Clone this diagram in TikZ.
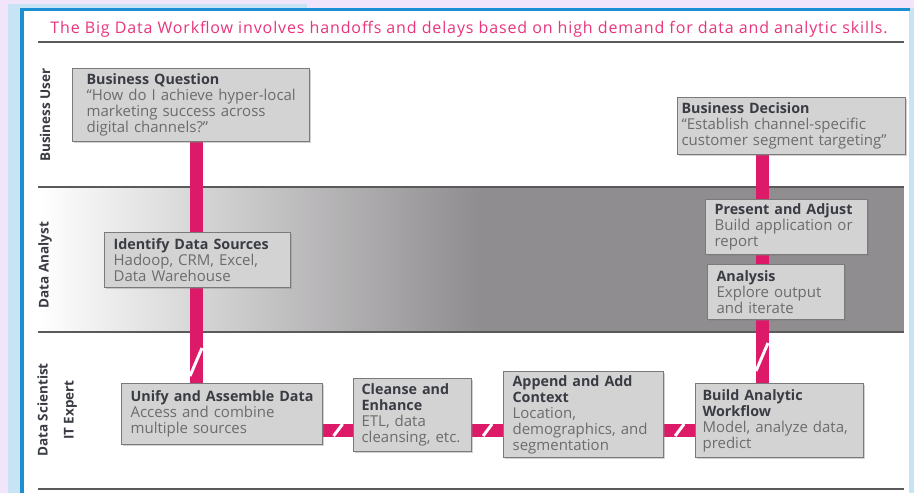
\documentclass[tikz,border=0pt]{standalone}
\usepackage{fontspec}
\setmainfont{Open Sans}
\usetikzlibrary{calc,shadows}

\definecolor{lavender}{HTML}{F1E4FB}
\definecolor{paleblue}{HTML}{C6E4F4}
\definecolor{frameblue}{HTML}{1B8FD2}
\definecolor{titlepink}{HTML}{E8357D}
\definecolor{flowpink}{HTML}{DD1A68}
\definecolor{boxfill}{HTML}{D3D3D3}
\definecolor{boxline}{HTML}{7A7A7A}
\definecolor{headtext}{HTML}{3A3C44}
\definecolor{bodytext}{HTML}{6C6C6C}
\definecolor{lanegray}{HTML}{8F8D8F}
\definecolor{rulegray}{HTML}{5A5A5A}

\pgfdeclarelayer{lanes}
\pgfdeclarelayer{flows}
\pgfsetlayers{lanes,flows,main}

\newcommand{\head}[1]{{\color{headtext}\fontsize{14.3}{16}\selectfont\bfseries #1}}

\tikzset{
  box/.style={draw=boxline, fill=boxfill, line width=1.2pt, anchor=north west,
    align=left, inner ysep=2pt, text=bodytext,
    font=\fontsize{15}{16}\selectfont,
    drop shadow={shadow xshift=1.5pt, shadow yshift=-1.5pt, opacity=0.35}},
  lane/.style={rotate=90, text=headtext, align=center,
    font=\fontsize{13.5}{16}\selectfont\bfseries},
  flow/.style={draw=flowpink, line width=13pt},
  cut/.style={draw=white, line width=3pt},
  rule/.style={draw=rulegray, line width=1.8pt},
}

\begin{document}
\begin{tikzpicture}[x=1pt,y=-1pt]
    \useasboundingbox (0,0) rectangle (914,493);

    % Frame and swim lanes
    \begin{pgfonlayer}{lanes}
        \fill[lavender] (0,0) rectangle (914,493);
        \fill[paleblue] (8,4) rectangle (307,493);
        \fill[paleblue] (909,8) rectangle (914,493);
        \fill[white] (24,11) rectangle (909,493);
        \draw[frameblue, line width=3pt] (20,9.5) -- (910,9.5);
        \draw[frameblue, line width=4pt] (22,8) -- (22,493);
        \shade[left color=white, right color=lanegray] (38,187) rectangle (480,332);
        \fill[lanegray] (480,187) rectangle (904,332);
        \foreach \y in {42, 187, 332, 489} {
            \draw[rule] (38,\y) -- (904,\y);
        }
    \end{pgfonlayer}

    % Title
    \node[text=titlepink, font=\fontsize{16}{18}\selectfont\addfontfeatures{LetterSpace=5.5}] (ttl) at (469,29)
        {The Big Data Workflow involves handoffs and delays based on high demand for data and analytic skills.};

    % Lane labels
    \node[lane] (lbu) at (45,115) {Business User};
    \node[lane] (lda) at (45,265) {Data Analyst};
    \node[lane] (lds) at (57,410) {Data Scientist\\[10pt]IT Expert};

    % Steps
    \node[box, inner xsep=14pt, text width=209pt, minimum height=73pt] (bq) at (72,68)
        {\head{Business Question}\\\mbox{“How do I achieve hyper-local}\\marketing success across\\digital channels?”};
    \node[box, inner xsep=4pt, text width=220pt, minimum height=57pt] (bd) at (677,97)
        {\head{Business Decision}\\“Establish channel-specific\\customer segment targeting”};
    \node[box, inner xsep=9pt, text width=168pt, minimum height=55pt] (ids) at (104,232)
        {\head{Identify Data Sources}\\Hadoop, CRM, Excel,\\Data Warehouse};
    \node[box, inner xsep=9pt, text width=144pt, minimum height=55pt] (pa) at (705,199)
        {\head{Present and Adjust}\\Build application or\\report};
    \node[box, inner xsep=9pt, text width=119pt, minimum height=55pt] (an) at (707,264)
        {\head{Analysis}\\Explore output\\and iterate};
    \node[box, inner xsep=9pt, text width=183pt, minimum height=61pt] (ua) at (121,383)
        {\head{Unify and Assemble Data}\\Access and combine\\multiple sources};
    \node[box, inner xsep=8pt, text width=102pt, minimum height=73pt] (ce) at (353,378)
        {\head{Cleanse and}\\\head{Enhance}\\ETL, data\\cleansing, etc.};
    \node[box, inner xsep=9pt, text width=142pt, minimum height=86pt] (ac) at (503,371)
        {\head{Append and Add}\\\head{Context}\\Location,\\demographics, and\\segmentation};
    \node[box, inner xsep=7pt, text width=154pt, minimum height=74pt] (baw) at (695,383)
        {\head{Build Analytic}\\\head{Workflow}\\Model, analyze data,\\predict};

    % Handoffs
    \coordinate (v1) at (196,0);
    \coordinate (v2) at (762,0);
    \coordinate (h1) at (0,430);
    \begin{pgfonlayer}{flows}
        \draw[flow] (bq.south -| v1) -- (ua.north -| v1);
        \draw[flow] (bd.south -| v2) -- (baw.north -| v2);
        \draw[cut] ($(ua.north -| v1)+(-6,-7)$) -- ++(12,-28);
        \draw[cut] ($(baw.north -| v2)+(-6,-12)$) -- ++(12,-28);
        \foreach \a/\b in {ua/ce, ce/ac, ac/baw} {
            \draw[flow] (\a.east |- h1) -- (\b.west |- h1);
            \draw[cut] ($(\a.east |- h1)!0.5!(\b.west |- h1)+(-4.5,6)$) -- ++(9,-12);
        }
    \end{pgfonlayer}
\end{tikzpicture}
\end{document}
